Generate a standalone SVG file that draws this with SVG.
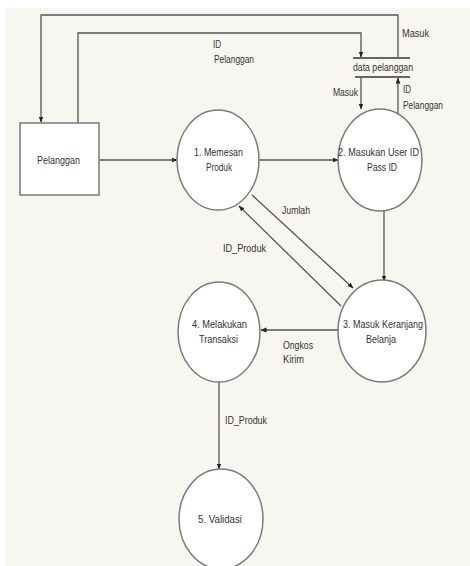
<svg xmlns="http://www.w3.org/2000/svg" width="470" height="566" viewBox="0 0 470 566">
  <defs>
    <marker id="arrow" markerWidth="6" markerHeight="6" refX="5.5" refY="3" orient="auto" markerUnits="userSpaceOnUse">
      <path d="M0,0.6 L6,3 L0,5.4 Z" fill="#222"/>
    </marker>
    <style>
      .bg { fill: #f8f6f0; }
      .shape { fill: #ffffff; stroke: #7a7a7a; stroke-width: 1.5; }
      .flow { fill: none; stroke: #555; stroke-width: 1.3; }
      .store { stroke: #666; stroke-width: 1.8; }
      text { font-family: "Liberation Sans", Arial, sans-serif; font-size: 11px; fill: #333; }
      .mid { text-anchor: middle; }
    </style>
  </defs>

  <rect width="470" height="566" fill="#ffffff"/>
  <rect class="bg" x="6" y="8" width="464" height="558"/>

  <!-- Connectors -->
  <g id="connectors">
    <!-- data pelanggan -> Pelanggan (Masuk) -->
    <polyline class="flow" points="398,58 398,15 41,15 41,122" marker-end="url(#arrow)"/>
    <!-- Pelanggan -> data pelanggan (ID Pelanggan) -->
    <polyline class="flow" points="78,123 78,33 361,33 361,57" marker-end="url(#arrow)"/>
    <!-- data pelanggan -> 2 (Masuk) -->
    <line class="flow" x1="361" y1="77" x2="361" y2="109" marker-end="url(#arrow)"/>
    <!-- 2 -> data pelanggan (ID Pelanggan) -->
    <line class="flow" x1="398" y1="115" x2="398" y2="78" marker-end="url(#arrow)"/>
    <!-- Pelanggan -> 1 -->
    <line class="flow" x1="99" y1="160" x2="177" y2="160" marker-end="url(#arrow)"/>
    <!-- 1 -> 2 -->
    <line class="flow" x1="259" y1="160" x2="338" y2="160" marker-end="url(#arrow)"/>
    <!-- 2 -> 3 -->
    <line class="flow" x1="384" y1="211" x2="384" y2="281" marker-end="url(#arrow)"/>
    <!-- 1 -> 3 (Jumlah) -->
    <line class="flow" x1="252" y1="195" x2="353" y2="288" marker-end="url(#arrow)"/>
    <!-- 3 -> 1 (ID_Produk) -->
    <line class="flow" x1="341" y1="306" x2="239" y2="206" marker-end="url(#arrow)"/>
    <!-- 3 -> 4 (Ongkos Kirim) -->
    <line class="flow" x1="338" y1="330" x2="261" y2="330" marker-end="url(#arrow)"/>
    <!-- 4 -> 5 (ID_Produk) -->
    <line class="flow" x1="219" y1="382" x2="219" y2="469" marker-end="url(#arrow)"/>

    <!-- flow labels -->
    <text x="402" y="37" textLength="27" lengthAdjust="spacingAndGlyphs">Masuk</text>
    <text x="213" y="48" textLength="8" lengthAdjust="spacingAndGlyphs">ID</text>
    <text x="214" y="63" textLength="40" lengthAdjust="spacingAndGlyphs">Pelanggan</text>
    <text x="333" y="96" textLength="25" lengthAdjust="spacingAndGlyphs">Masuk</text>
    <text x="403" y="93" textLength="8" lengthAdjust="spacingAndGlyphs">ID</text>
    <text x="403" y="109" textLength="40" lengthAdjust="spacingAndGlyphs">Pelanggan</text>
    <text x="282" y="214" textLength="28" lengthAdjust="spacingAndGlyphs">Jumlah</text>
    <text x="223" y="252" textLength="43" lengthAdjust="spacingAndGlyphs">ID_Produk</text>
    <text x="283" y="349" textLength="30" lengthAdjust="spacingAndGlyphs">Ongkos</text>
    <text x="283" y="363" textLength="21" lengthAdjust="spacingAndGlyphs">Kirim</text>
    <text x="225" y="424" textLength="42" lengthAdjust="spacingAndGlyphs">ID_Produk</text>
  </g>

  <!-- Data store -->
  <g id="data-pelanggan">
    <line class="store" x1="353" y1="58" x2="410" y2="58"/>
    <line class="store" x1="355" y1="77" x2="410" y2="77"/>
    <text x="353" y="71" textLength="60" lengthAdjust="spacingAndGlyphs">data pelanggan</text>
  </g>

  <!-- External entity -->
  <g id="pelanggan">
    <rect class="shape" x="20" y="123" width="79" height="72"/>
    <text x="37" y="164" textLength="43" lengthAdjust="spacingAndGlyphs">Pelanggan</text>
  </g>

  <!-- Processes -->
  <g id="p1">
    <ellipse class="shape" cx="218" cy="160" rx="41" ry="50"/>
    <text x="194" y="156" textLength="49" lengthAdjust="spacingAndGlyphs">1. Memesan</text>
    <text x="206" y="171" textLength="26" lengthAdjust="spacingAndGlyphs">Produk</text>
  </g>
  <g id="p2">
    <ellipse class="shape" cx="380" cy="160" rx="42" ry="51"/>
    <text x="338" y="156" textLength="81" lengthAdjust="spacingAndGlyphs">2. Masukan User ID</text>
    <text x="367" y="171" textLength="30" lengthAdjust="spacingAndGlyphs">Pass ID</text>
  </g>
  <g id="p3">
    <ellipse class="shape" cx="382" cy="331" rx="44" ry="51"/>
    <text x="343" y="328" textLength="80" lengthAdjust="spacingAndGlyphs">3. Masuk Keranjang</text>
    <text x="366" y="343" textLength="30" lengthAdjust="spacingAndGlyphs">Belanja</text>
  </g>
  <g id="p4">
    <ellipse class="shape" cx="219" cy="332" rx="41" ry="50"/>
    <text x="192" y="328" textLength="55" lengthAdjust="spacingAndGlyphs">4. Melakukan</text>
    <text x="199" y="343" textLength="39" lengthAdjust="spacingAndGlyphs">Transaksi</text>
  </g>
  <g id="p5">
    <ellipse class="shape" cx="221" cy="519" rx="42" ry="50"/>
    <text x="198" y="523" textLength="44" lengthAdjust="spacingAndGlyphs">5. Validasi</text>
  </g>
</svg>
